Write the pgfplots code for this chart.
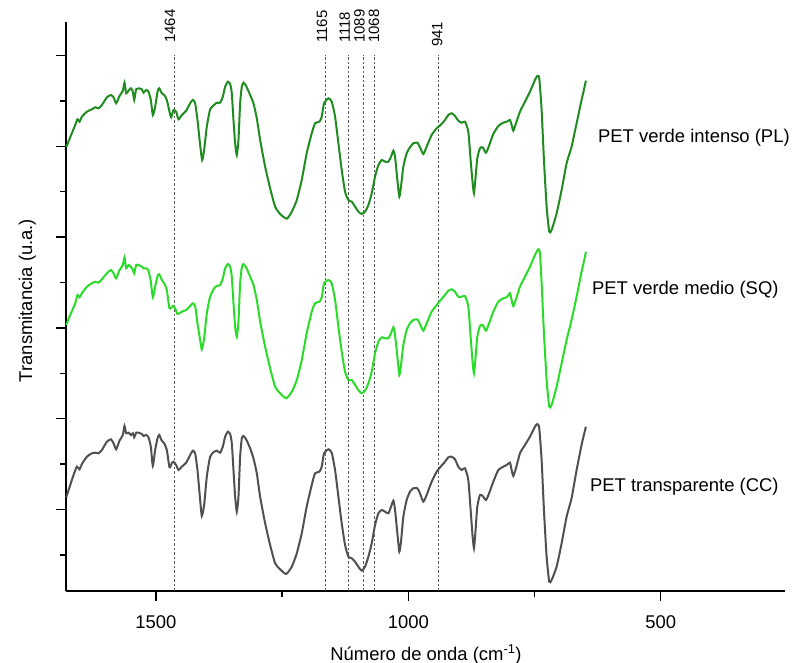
\documentclass[border=0pt]{standalone}
\usepackage{pgfplots}
\pgfplotsset{compat=1.18}
\usepackage{fontspec}
\setmainfont{Liberation Sans}
\definecolor{cPL}{RGB}{30,140,30}
\definecolor{cSQ}{RGB}{40,220,40}
\definecolor{cCC}{RGB}{80,80,80}
\tikzset{
  vline/.style={gray!70!black, line width=0.7bp, dash pattern=on 2.5bp off 2bp, sharp plot},
  vlab/.style={rotate=90, anchor=mid west, inner sep=0pt, font=\fontsize{15}{17}\selectfont},
}
\begin{document}
\begin{tikzpicture}
\path[use as bounding box] (0,0) rectangle (792bp,663bp);
\begin{axis}[
  at={(66bp,72bp)}, anchor=south west,
  scale only axis, width=719bp, height=569bp,
  x dir=reverse, xmin=254, xmax=1678, ymin=0, ymax=569,
  axis x line*=bottom, axis y line*=left,
  axis line style={line width=1.3bp, black},
  tick align=outside,
  major tick length=10bp, minor tick length=6bp,
  every tick/.style={black, line width=1.3bp},
  xtick={500,1000,1500}, minor xtick={750,1250},
  ytick={81.5,172.3,263.1,353.9,444.7,535.5},
  minor ytick={36.1,126.9,217.7,308.5,399.3,490.1},
  yticklabels={},
  /pgf/number format/assume math mode=true,
  /pgf/number format/1000 sep={},
  xticklabel style={font=\fontsize{18.5}{20}\selectfont, yshift=-11bp},
  clip=false,
  every axis plot/.append style={line width=2bp, smooth, tension=0.35},
]
% dashed reference lines
\addplot[vline] coordinates {(1464,0) (1464,536)};
\addplot[vline] coordinates {(1165,0) (1165,536)};
\addplot[vline] coordinates {(1118,0) (1118,536)};
\addplot[vline] coordinates {(1089,0) (1089,536)};
\addplot[vline] coordinates {(1068,0) (1068,536)};
\addplot[vline] coordinates {(941,0) (941,536)};
\node[vlab] at (axis cs:1467,548) {1464};
\node[vlab] at (axis cs:1166,548) {1165};
\node[vlab] at (axis cs:1121,548) {1118};
\node[vlab] at (axis cs:1092,548) {1089};
\node[vlab] at (axis cs:1063,548) {1068};
\node[vlab] at (axis cs:938,544) {941};
% PL
\addplot[cPL] coordinates {
(1677.5,443.7) (1669.6,453.7) (1659.7,466) (1655.1,471.7) (1651.1,469.3) (1646.5,474.3) (1636.6,479.3) (1626.7,481.7) (1620.1,483.7) (1613.5,482.7) (1606.9,486) (1597.0,493.7) (1589.1,496) (1583.8,493.7) (1578.6,487.7) (1572.0,495) (1565.4,500.3) (1562.1,508.3) (1558.8,497.7) (1554.1,500.3) (1549.5,502.7) (1545.6,499.3) (1542.9,491) (1539.0,501.7) (1534.3,502.7) (1527.8,501.7) (1524.4,498.3) (1519.2,501) (1514.6,499.3) (1510.0,491) (1506.0,476) (1501.4,484.3) (1496.7,499.3) (1493.4,502.7) (1488.2,497.7) (1483.5,496) (1478.3,491) (1473.0,479.3) (1469.7,473.7) (1465.1,481) (1459.8,479.3) (1455.2,471.7) (1448.6,476) (1440.0,480.3) (1432.1,487.7) (1426.8,491) (1422.2,487.7) (1417.6,471) (1412.3,446) (1408.3,431) (1404.4,441) (1399.1,464.3) (1392.5,481.7) (1384.6,486) (1379.3,488.3) (1372.7,488.3) (1367.4,494.3) (1362.8,504.3) (1357.5,509.3) (1352.9,507) (1349.6,497.7) (1346.3,471) (1343.0,447.7) (1339.7,436) (1336.4,451) (1333.1,487.7) (1329.8,504.3) (1326.5,508.3) (1321.2,505) (1313.3,496) (1306.7,487.7) (1300.1,472.7) (1293.5,451) (1283.6,424.3) (1273.7,402.7) (1263.8,384.3) (1253.9,377) (1240.7,372.3) (1230.8,379.3) (1220.9,391) (1211.1,411) (1201.3,437.7) (1191.3,457.7) (1184.7,467.7) (1176.1,469.3) (1171.5,474.3)
(1166.9,487.7) (1158.3,492.7) (1151.7,489.3) (1145.1,474.3) (1138.5,447.7) (1131.9,421) (1125.3,399.3) (1118.7,391) (1112.1,389.3) (1105.5,384.3) (1098.9,379.3) (1092.3,377) (1085.7,379.3) (1079.1,386) (1072.5,397.7) (1065.9,414.3) (1059.3,426) (1052.7,431) (1046.1,429.3) (1039.5,429.3) (1034.3,434.3) (1029.6,440.3) (1026.3,434.3) (1021.7,411) (1017.8,394.3) (1014.5,404.3) (1009.9,424.3) (1003.3,437.7) (996.7,443.7) (990.1,447.7) (982.1,448.3) (976.9,443.7) (970.3,437) (963.7,444.3) (953.8,456) (943.9,462.7) (936.0,466) (927.4,471) (920.8,476) (914.2,477.7) (907.6,475) (901.0,470.3) (894.4,468.3) (887.8,469.3) (881.2,459.3) (876.6,431) (872.6,407.7) (870.0,397.7) (867.3,411) (863.4,432.7) (858.1,442.7) (852.8,443.7) (846.2,438.3) (839.6,446) (831.7,457) (821.8,465) (811.9,468.3) (805.3,469.3) (798.7,471) (795.4,466) (792.1,460.3) (786.8,467.7) (778.9,479.3) (769.0,489.3) (759.1,499.3) (749.2,511) (744.6,515) (740.7,512.7) (736.0,481) (731.4,431) (726.1,384.3) (720.9,359.3) (716.2,361) (706.3,377.7) (696.4,401) (686.5,427.7) (676.7,444.3) (666.7,467.7) (656.9,491) (652.3,501) (648.3,510.3)
};
% SQ
\addplot[cSQ] coordinates {
(1677.5,266) (1669.6,276) (1659.7,287.7) (1655.1,296) (1651.1,293.7) (1646.5,297.7) (1636.6,304.3) (1626.7,307.7) (1620.1,309.3) (1613.5,308.3) (1606.9,311.7) (1597.0,317.7) (1589.1,321) (1583.8,317.7) (1578.6,312.7) (1572.0,321) (1565.4,326) (1562.1,333.7) (1558.8,322.7) (1554.1,326) (1549.5,324.3) (1545.6,321) (1542.9,317.7) (1539.0,326) (1534.3,326) (1527.8,324.3) (1524.4,322.7) (1519.2,322.7) (1514.6,320.3) (1510.0,309.3) (1506.0,293.7) (1501.4,304.3) (1496.7,315) (1493.4,316.7) (1488.2,311) (1483.5,307.7) (1478.3,301) (1473.0,282.7) (1466.4,285) (1461.8,282.7) (1457.2,277) (1448.6,279.3) (1440.0,281) (1432.1,285) (1426.8,287.7) (1422.2,285) (1417.6,267.7) (1412.3,251) (1409.0,241.7) (1404.4,252.7) (1399.1,277.7) (1392.5,294.3) (1384.6,302.7) (1379.3,305) (1372.7,306) (1367.4,312.7) (1362.8,322.7) (1357.5,327) (1352.9,324.3) (1349.6,314.3) (1346.3,287.7) (1343.0,264.3) (1339.7,254.3) (1336.4,269.3) (1333.1,307.7) (1329.8,323.7) (1326.5,327) (1321.2,323.7) (1313.3,314.3) (1306.7,306) (1300.1,291) (1293.5,269.3) (1283.6,244.3) (1273.7,222.7) (1263.8,204.3) (1253.9,197.7) (1242.0,192.7) (1230.8,199.3) (1220.9,211) (1211.1,231) (1201.3,257.7) (1191.3,279.3) (1184.7,287.7) (1176.1,289.3) (1171.5,293.7)
(1166.9,307.7) (1158.3,311) (1151.7,307.7) (1145.1,291) (1138.5,264.3) (1131.9,239.3) (1125.3,219.3) (1118.7,211) (1112.1,211) (1105.5,206) (1098.9,201) (1092.3,197.7) (1085.7,200.3) (1079.1,207.7) (1072.5,219.3) (1065.9,237.7) (1059.3,249.3) (1052.7,253.7) (1046.1,252.7) (1039.5,252.7) (1034.3,257.7) (1029.6,263.7) (1026.3,256) (1021.7,234.3) (1017.8,216) (1014.5,226) (1009.9,246) (1003.3,261) (996.7,267.7) (990.1,271) (982.1,271.7) (976.9,267) (970.3,260.3) (963.7,267.7) (953.8,279.3) (943.9,286) (936.0,291) (927.4,296) (920.8,300.3) (914.2,301.7) (907.6,299.3) (901.0,294.3) (894.4,294.3) (887.8,295) (881.2,284.3) (876.6,254.3) (872.6,227.7) (870.0,217.7) (867.3,231) (863.4,254.3) (858.1,265) (852.8,266) (846.2,260.3) (839.6,268.3) (831.7,279.3) (821.8,289.3) (811.9,292.7) (805.3,293.7) (798.7,297.7) (795.4,291) (792.1,285) (786.8,291.7) (778.9,304.3) (769.0,314.3) (759.1,324.3) (749.2,336) (742.6,341.7) (739.3,337.7) (736.0,307.7) (731.4,257.7) (726.1,211) (720.9,184.3) (716.2,186) (706.3,204.3) (696.4,227.7) (686.5,251) (676.7,271) (666.7,294.3) (656.9,319.3) (652.3,329.3) (648.3,339.3)
};
% CC
\addplot[cCC] coordinates {
(1677.5,93.7) (1669.6,106) (1663.0,116) (1656.4,124.3) (1651.1,121.7) (1646.5,127) (1636.6,134.3) (1626.7,137.7) (1620.1,138.3) (1613.5,137.7) (1606.9,141) (1597.0,149.3) (1589.1,151.7) (1583.8,147.7) (1578.6,141.7) (1572.0,150.3) (1565.4,156) (1562.1,165) (1558.8,157.7) (1554.1,158.3) (1549.5,156) (1545.6,157.7) (1542.9,153.7) (1539.0,158.3) (1534.3,158.3) (1527.8,157) (1524.4,155) (1519.2,156) (1514.6,153.7) (1510.0,144.3) (1506.0,125) (1501.4,141) (1496.7,152.7) (1493.4,156) (1488.2,150.3) (1483.5,147.7) (1478.3,141) (1473.0,123.7) (1468.4,127.7) (1465.1,129.3) (1459.8,126) (1455.2,121) (1448.6,124.3) (1440.0,128.3) (1432.1,136) (1426.8,140.3) (1422.2,137.7) (1417.6,121) (1412.3,91) (1409.0,75) (1404.4,86) (1399.1,114.3) (1392.5,134.3) (1384.6,139.3) (1379.3,140.3) (1372.7,138.3) (1367.4,144.3) (1362.8,154.3) (1357.5,159.3) (1352.9,157) (1349.6,147.7) (1346.3,121) (1343.0,94.3) (1339.7,79.3) (1336.4,94.3) (1333.1,134.3) (1329.8,152.7) (1326.5,155) (1321.2,151.7) (1313.3,142.7) (1306.7,132.7) (1300.1,117.7) (1293.5,94.3) (1283.6,67.7) (1273.7,46) (1263.8,27.7) (1253.9,21.7) (1242.0,17) (1230.8,24.3) (1220.9,37.7) (1211.1,57.7) (1201.3,84.3) (1191.3,106) (1184.7,117.7) (1176.1,119.3) (1171.5,124.3)
(1166.9,137.7) (1158.3,141.7) (1151.7,138.3) (1145.1,121) (1138.5,94.3) (1131.9,67.7) (1125.3,46) (1118.7,34.3) (1112.1,32.7) (1105.5,29.3) (1098.9,24.3) (1092.3,20.3) (1085.7,24.3) (1079.1,34.3) (1072.5,47.7) (1065.9,66) (1059.3,77.7) (1052.7,81) (1046.1,79.3) (1039.5,77.7) (1034.3,84.3) (1029.6,90.3) (1026.3,81) (1021.7,57.7) (1017.8,39.3) (1014.5,49.3) (1009.9,74.3) (1003.3,91) (996.7,99.3) (990.1,102.7) (982.1,102.7) (976.9,97.7) (970.3,89.3) (963.7,96) (953.8,109.3) (943.9,119.3) (936.0,124.3) (927.4,129.3) (920.8,133.7) (914.2,134.3) (907.6,131.7) (901.0,124.3) (894.4,121) (887.8,122.7) (881.2,111) (876.6,81) (872.6,54.3) (870.0,42.7) (867.3,57.7) (863.4,84.3) (858.1,96) (852.8,95) (846.2,91) (839.6,98.3) (831.7,109.3) (821.8,121) (811.9,124.3) (805.3,126) (798.7,128.3) (795.4,121) (792.1,115) (786.8,122.7) (778.9,137.7) (769.0,146) (759.1,154.3) (749.2,164.3) (744.6,167) (740.7,162.7) (736.0,131) (731.4,81) (726.1,34.3) (720.9,9.3) (716.2,11) (706.3,24.3) (696.4,47.7) (686.5,74.3) (676.7,92.7) (666.7,121) (656.9,146) (652.3,156) (648.3,164.3)
};
% labels
\node[anchor=base west, inner sep=0pt, font=\fontsize{18.5}{20}\selectfont] at (axis cs:624.5,448) {PET verde intenso (PL)};
\node[anchor=base west, inner sep=0pt, font=\fontsize{18.5}{20}\selectfont] at (axis cs:636.4,296) {PET verde medio (SQ)};
\node[anchor=base west, inner sep=0pt, font=\fontsize{18.5}{20}\selectfont] at (axis cs:640.4,99) {PET transparente (CC)};
\node[anchor=base, inner sep=0pt, font=\fontsize{18.5}{20}\selectfont] at (axis cs:965,-69) {Número de onda (cm\textsuperscript{-1})};
\node[anchor=base, rotate=90, inner sep=0pt, font=\fontsize{18.5}{20}\selectfont] at (axis cs:1744.9,290.5) {Transmitancia (u.a.)};
\end{axis}
\end{tikzpicture}
\end{document}
